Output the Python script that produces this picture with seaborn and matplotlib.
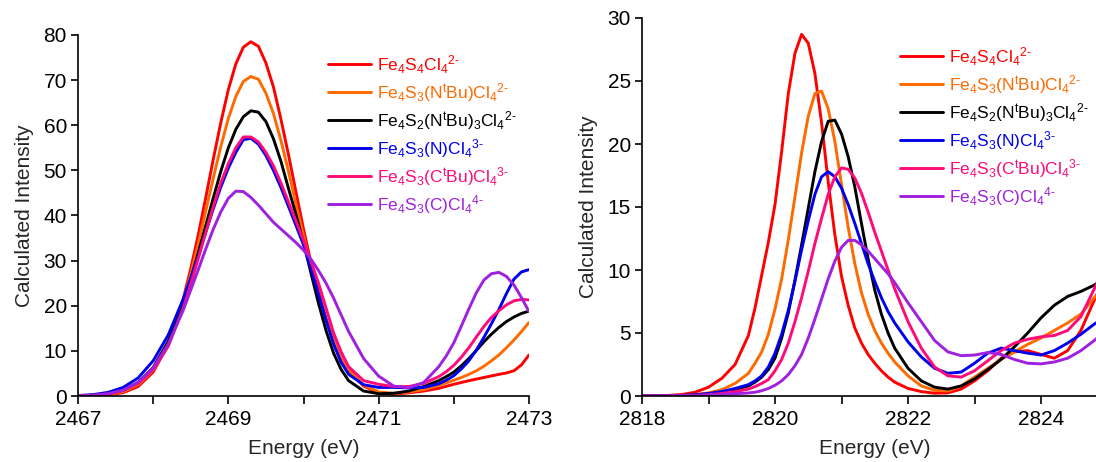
import numpy as np
import pandas as pd
import matplotlib
matplotlib.use("Agg")
import matplotlib.pyplot as plt
import seaborn as sns
from matplotlib.lines import Line2D
from matplotlib.ticker import MultipleLocator

# ---------------- data ----------------
names = ["Fe4S4Cl4", "Fe4S3(NtBu)Cl4", "Fe4S2(NtBu)3Cl4", "Fe4S3(N)Cl4", "Fe4S3(CtBu)Cl4", "Fe4S3(C)Cl4"]
labels = [
    r"Fe$_4$S$_4$Cl$_4$$^{2\text{-}}$",
    r"Fe$_4$S$_3$(N$^{\mathrm{t}}$Bu)Cl$_4$$^{2\text{-}}$",
    r"Fe$_4$S$_2$(N$^{\mathrm{t}}$Bu)$_3$Cl$_4$$^{2\text{-}}$",
    r"Fe$_4$S$_3$(N)Cl$_4$$^{3\text{-}}$",
    r"Fe$_4$S$_3$(C$^{\mathrm{t}}$Bu)Cl$_4$$^{3\text{-}}$",
    r"Fe$_4$S$_3$(C)Cl$_4$$^{4\text{-}}$",
]
colors = ["#FF0000", "#FF6A00", "#000000", "#0000F0", "#FF0A78", "#A020E0"]

# Left panel (S K-edge region): read-off energies (eV)
energy_s = [2467.0, 2467.2, 2467.4, 2467.6, 2467.8, 2468.0, 2468.2, 2468.4,
            2468.5, 2468.6, 2468.7, 2468.8, 2468.9, 2469.0, 2469.1, 2469.2, 2469.3, 2469.4,
            2469.5, 2469.6, 2469.7, 2469.8, 2469.9, 2470.0, 2470.1, 2470.2, 2470.3, 2470.4, 2470.5,
            2470.6, 2470.8, 2471.0, 2471.2, 2471.4, 2471.6, 2471.8,
            2471.9, 2472.0, 2472.1, 2472.2, 2472.3, 2472.4, 2472.5, 2472.6, 2472.7, 2472.8, 2472.9, 2473.0]
s_red = [0.0, 0.06, 0.23, 0.74, 2.1, 5.3, 11.4, 21.5,
         28.2, 35.7, 44.0, 52.5, 60.6, 67.9, 73.6, 77.3, 78.5, 77.5,
         73.8, 68.5, 61.3, 53.5, 45.2, 37.0, 29.5, 23.0, 17.2, 12.3, 8.6,
         5.6, 2.2, 0.7, 0.4, 0.7, 1.1, 1.7,
         2.15, 2.6, 3.0, 3.4, 3.75, 4.1, 4.45, 4.8, 5.1, 5.6, 6.9, 9.1]
s_orange = [0.03, 0.1, 0.33, 0.96, 2.5, 5.7, 11.6, 20.9,
            27.0, 33.7, 41.0, 48.3, 55.3, 61.5, 66.4, 69.7, 70.8, 70.2,
            67.1, 62.6, 56.6, 49.8, 42.4, 35.5, 28.3, 22.3, 16.8, 12.3, 8.8,
            5.9, 2.4, 0.9, 0.6, 0.9, 1.4, 2.4,
            2.9, 3.5, 4.1, 4.8, 5.6, 6.6, 7.8, 9.1, 10.7, 12.4, 14.3, 16.3]
s_black = [0.05, 0.17, 0.5, 1.3, 3.0, 6.3, 12.1, 20.6,
           25.9, 31.7, 37.8, 43.9, 49.8, 55.0, 59.1, 61.9, 63.2, 62.9,
           60.8, 57.0, 52.0, 46.0, 40.2, 34.0, 27.2, 20.5, 14.5, 9.5, 5.9,
           3.4, 1.1, 0.5, 0.6, 1.1, 2.1, 3.4,
           4.3, 5.3, 6.7, 8.3, 10.1, 12.0, 13.7, 15.2, 16.5, 17.5, 18.3, 18.8]
s_blue = [0.1, 0.3, 0.8, 1.9, 4.0, 7.8, 13.5, 21.5,
          26.2, 31.0, 36.3, 41.5, 46.3, 50.5, 54.0, 56.8, 57.1, 55.8,
          53.3, 50.0, 46.2, 42.0, 37.8, 33.5, 28.2, 22.5, 16.8, 11.5, 7.5,
          4.8, 2.5, 1.9, 1.9, 1.8, 1.9, 2.7,
          3.5, 4.5, 6.0, 7.8, 10.2, 13.0, 16.0, 19.2, 22.7, 25.9, 27.5, 28.0]
s_pink = [0.05, 0.15, 0.45, 1.2, 2.8, 5.8, 11.0, 19.5,
          24.8, 30.5, 36.3, 42.0, 47.2, 51.5, 55.0, 57.4, 57.4, 56.3,
          54.0, 51.0, 47.2, 43.0, 38.8, 34.5, 29.8, 25.0, 19.5, 14.0, 9.8,
          6.5, 3.4, 2.6, 2.1, 2.1, 2.8, 4.3,
          5.4, 6.8, 8.6, 10.7, 13.1, 15.4, 17.4, 18.9, 20.2, 21.1, 21.4, 21.3]
s_purple = [0.05, 0.15, 0.5, 1.3, 3.0, 6.2, 11.5, 19.0,
            23.5, 28.0, 32.6, 37.0, 40.8, 43.8, 45.4, 45.3, 44.0, 42.3,
            40.4, 38.5, 37.0, 35.5, 34.0, 32.3, 30.3, 27.8, 25.0, 21.7, 18.0,
            14.3, 8.3, 4.4, 2.2, 1.8, 3.0, 6.5,
            8.9, 11.8, 15.5, 19.3, 22.9, 25.7, 27.1, 27.4, 26.5, 24.6, 21.8, 18.7]

# Right panel (Cl K-edge region): read-off energies (eV)
energy_cl = [2818.0, 2818.2, 2818.4, 2818.6, 2818.8, 2819.0, 2819.2, 2819.4, 2819.6,
             2819.7, 2819.8, 2819.9, 2820.0, 2820.1, 2820.2, 2820.3, 2820.4, 2820.5, 2820.6,
             2820.7, 2820.8, 2820.9, 2821.0, 2821.1, 2821.2, 2821.3, 2821.4, 2821.5, 2821.6, 2821.7,
             2821.8, 2822.0, 2822.2, 2822.4, 2822.6, 2822.8, 2823.0, 2823.2, 2823.4, 2823.6,
             2823.8, 2824.0, 2824.2, 2824.4, 2824.6, 2824.8, 2825.0]
cl_red = [0.0, 0.02, 0.05, 0.12, 0.3, 0.7, 1.4, 2.5, 4.8,
          7.0, 9.6, 12.2, 15.2, 19.4, 24.0, 27.2, 28.7, 28.0, 25.6,
          21.7, 17.0, 12.8, 9.5, 7.2, 5.4, 4.2, 3.3, 2.6, 2.0, 1.5,
          1.1, 0.6, 0.35, 0.22, 0.25, 0.55, 1.2, 2.0, 3.0, 3.5, 3.6, 3.3, 3.0, 3.6, 5.2, 7.6, 10.0]
cl_orange = [0.0, 0.01, 0.03, 0.06, 0.12, 0.25, 0.5, 1.0, 1.8,
             2.6, 3.5, 4.9, 6.9, 9.3, 12.4, 15.8, 19.3, 22.2, 24.0,
             24.2, 22.8, 20.2, 16.8, 13.4, 10.5, 8.2, 6.5, 5.2, 4.2, 3.4,
             2.7, 1.6, 0.8, 0.45, 0.4, 0.8, 1.5, 2.2, 2.9, 3.5, 4.1, 4.6, 5.2, 5.8, 6.5, 7.8, 9.0]
cl_black = [0.0, 0.01, 0.02, 0.04, 0.08, 0.15, 0.3, 0.5, 0.8,
            1.1, 1.5, 2.1, 3.0, 4.6, 6.6, 9.2, 12.0, 14.9, 17.8,
            20.2, 21.8, 21.9, 20.8, 19.0, 16.6, 13.7, 10.9, 8.4, 6.5, 5.0,
            3.8, 2.2, 1.2, 0.7, 0.55, 0.8, 1.35, 2.1, 2.9, 3.9, 5.0, 6.2, 7.2, 7.9, 8.3, 8.8, 9.5]
cl_blue = [0.0, 0.01, 0.02, 0.05, 0.1, 0.2, 0.35, 0.6, 0.9,
           1.2, 1.6, 2.3, 3.4, 4.9, 6.8, 9.1, 11.6, 13.9, 16.0,
           17.4, 17.8, 17.4, 16.5, 15.2, 13.7, 12.1, 10.5, 9.1, 7.8, 6.7,
           5.8, 4.3, 3.1, 2.2, 1.8, 1.9, 2.6, 3.4, 3.8, 3.6, 3.4, 3.25, 3.6, 4.2, 4.9, 5.7, 6.4]
cl_pink = [0.0, 0.0, 0.01, 0.02, 0.05, 0.1, 0.2, 0.35, 0.55,
           0.75, 1.0, 1.3, 2.0, 2.9, 4.2, 5.9, 7.8, 9.9, 12.1,
           14.1, 16.0, 17.4, 18.1, 18.0, 17.3, 16.1, 14.6, 13.0, 11.5, 10.0,
           8.5, 5.9, 3.8, 2.3, 1.6, 1.5, 2.0, 2.8, 3.6, 4.2, 4.5, 4.7, 4.8, 5.2, 6.3, 8.5, 10.5]
cl_purple = [0.0, 0.0, 0.01, 0.02, 0.04, 0.07, 0.12, 0.18, 0.24,
             0.3, 0.42, 0.6, 0.85, 1.2, 1.7, 2.4, 3.3, 4.6, 6.1,
             7.7, 9.3, 10.7, 11.8, 12.35, 12.35, 12.0, 11.5, 10.9, 10.3, 9.7,
             9.0, 7.4, 5.9, 4.4, 3.5, 3.2, 3.25, 3.45, 3.3, 2.9, 2.6, 2.55, 2.7, 3.0, 3.6, 4.4, 5.3]

s_ticks = [2467, 2469, 2471, 2473]
cl_ticks = [2818, 2820, 2822, 2824]
s_yticks = [0, 10, 20, 30, 40, 50, 60, 70, 80]
cl_yticks = [0, 5, 10, 15, 20, 25, 30]

# ---------------- style ----------------
sns.set_theme(style="ticks")
plt.rcParams["font.family"] = ["Liberation Sans", "DejaVu Sans"]
plt.rcParams["mathtext.fontset"] = "custom"
plt.rcParams["mathtext.rm"] = "Liberation Sans"
plt.rcParams["mathtext.it"] = "Liberation Sans:italic"
plt.rcParams["mathtext.bf"] = "Liberation Sans:bold"
plt.rcParams["axes.edgecolor"] = "black"
plt.rcParams["xtick.color"] = "black"
plt.rcParams["ytick.color"] = "black"

W, H = 1096, 462
fig = plt.figure(figsize=(W / 100, H / 100), dpi=100)
ax1 = fig.add_axes([78 / W, 66 / H, 451 / W, 361 / H])
ax2 = fig.add_axes([642 / W, 66 / H, 465.5 / W, 378 / H])


def long_df(energy, series):
    frames = []
    for n, vals in zip(names, series):
        frames.append(pd.DataFrame({"Energy": energy, "Intensity": vals, "Species": n}))
    return pd.concat(frames, ignore_index=True)


palette = dict(zip(names, colors))
df_s = long_df(energy_s, [s_red, s_orange, s_black, s_blue, s_pink, s_purple])
df_cl = long_df(energy_cl, [cl_red, cl_orange, cl_black, cl_blue, cl_pink, cl_purple])

LW = 2.1
for ax, df in [(ax1, df_s), (ax2, df_cl)]:
    sns.lineplot(data=df, x="Energy", y="Intensity", hue="Species", hue_order=names,
                 palette=palette, linewidth=LW, estimator=None, sort=False,
                 legend=False, ax=ax)
    for ln in ax.lines:
        ln.set_solid_joinstyle("round")
    sns.despine(ax=ax)
    for sp in ("left", "bottom"):
        ax.spines[sp].set_linewidth(1.2)
    ax.tick_params(axis="x", which="both", direction="out", length=6, width=1.2,
                   labelsize=15, pad=4)
    ax.tick_params(axis="y", which="both", direction="out", length=5, width=1.2,
                   labelsize=15, pad=3)
    ax.set_xlabel("Energy (eV)", fontsize=15, labelpad=7)
    ax.set_ylabel("Calculated Intensity", fontsize=15, labelpad=7)
    ax.xaxis.set_minor_locator(MultipleLocator(1))

ax1.set_xlim(2467, 2473)
ax1.set_ylim(0, 80)
ax1.set_xticks(s_ticks)
ax1.set_yticks(s_yticks)

ax2.set_xlim(2818, 2825)
ax2.set_ylim(0, 30)
ax2.set_xticks(cl_ticks)
ax2.set_yticks(cl_yticks)


def add_legend(ax, x_px, y_px):
    handles = [Line2D([0], [0], color=c, lw=LW) for c in colors]
    ax.legend(handles, labels, loc="upper left",
              bbox_to_anchor=(x_px / W, 1 - y_px / H), bbox_transform=fig.transFigure,
              frameon=False, fontsize=12.5, handlelength=2.5, handletextpad=0.35,
              labelspacing=0.3, borderpad=0, borderaxespad=0, labelcolor="linecolor")


add_legend(ax1, 328, 53)
add_legend(ax2, 900, 45)

fig.savefig("out.png", dpi=100)
